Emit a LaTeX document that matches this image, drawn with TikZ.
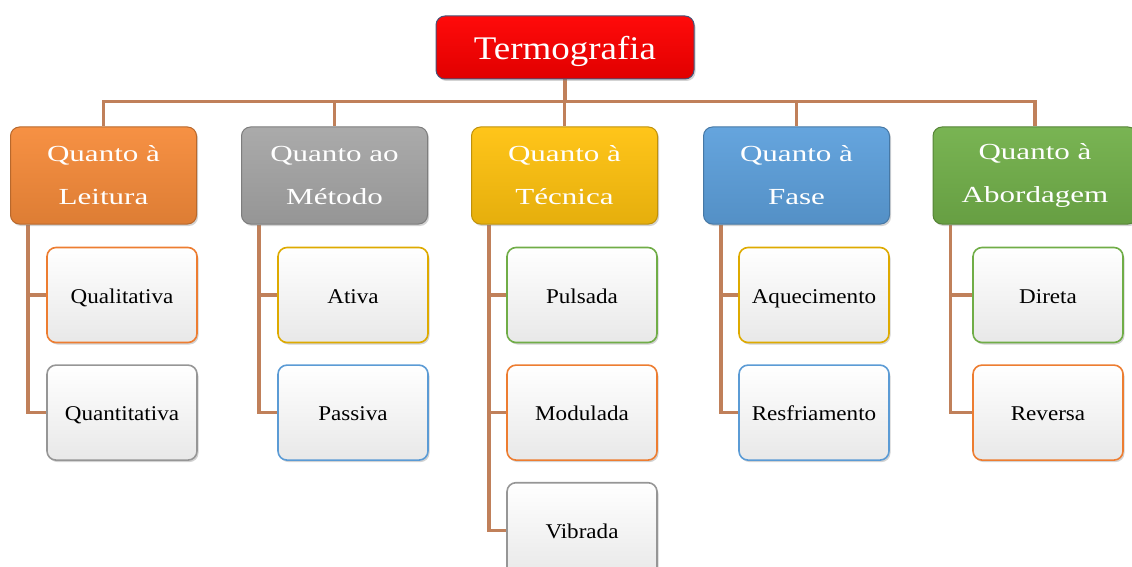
\documentclass[tikz,border=0pt]{standalone}
\usepackage{fontspec}
\setmainfont{Liberation Serif}
\newfontfamily\rootfont[FakeStretch=1.12]{Liberation Serif}
\newfontfamily\headfont[FakeStretch=1.35]{Liberation Serif}
\newfontfamily\leaffont[FakeStretch=1.1]{Liberation Serif}
\usepackage{tikz}
\usetikzlibrary{calc, positioning, shadows, backgrounds}
\definecolor{linkbrown}{RGB}{192,128,90}
\definecolor{tred}{RGB}{255,0,0}
\definecolor{rootedge}{RGB}{70,84,120}
\definecolor{torange}{RGB}{246,139,58}
\definecolor{tgray}{RGB}{166,166,166}
\definecolor{tgold}{RGB}{255,194,14}
\definecolor{tblue}{RGB}{93,160,220}
\definecolor{tgreen}{RGB}{114,176,74}
\definecolor{lorange}{RGB}{237,125,49}
\definecolor{lgray}{RGB}{150,150,150}
\definecolor{lgold}{RGB}{222,170,0}
\definecolor{lblue}{RGB}{91,155,213}
\definecolor{lgreen}{RGB}{112,173,71}

\begin{document}
\begin{tikzpicture}[
        x=1pt, y=-1pt,
        box/.style = {draw, rectangle, rounded corners=9pt, inner sep=0pt, align=center, line width=1pt, drop shadow={opacity=0.35, shadow xshift=1.5pt, shadow yshift=-2pt}},
        rootbox/.style = {box, top color=tred!96!white, middle color=tred, bottom color=tred!88!black, draw=rootedge, minimum width=258pt, minimum height=63pt, text=white, text height=24pt, text depth=0pt, font=\rootfont\fontsize{33}{36}\selectfont},
        headbox/.style = {box, top color=#1!95!white, middle color=#1, bottom color=#1!90!black, draw=#1!75!black, minimum width=186pt, minimum height=97pt, text=white, font=\headfont\fontsize{23}{43}\selectfont},
        leafbox/.style = {box, top color=white, middle color=white, bottom color=black!9, draw=#1, line width=1.6pt, minimum width=150pt, minimum height=95pt, text height=16pt, text depth=0pt, font=\leaffont\fontsize{21}{24}\selectfont},
        link/.style = {draw=linkbrown, line width=3.2pt}
    ]

        % Frame
        \useasboundingbox (0,0) rectangle (1132,567);
        \clip (0,0) rectangle (1132,567);

        % Root
        \node (root) [rootbox] at (565,47.5) {Termografia};

        % Categories
        \node (leitura) [headbox=torange] at (103.5,175.5) {Quanto à\\Leitura};
        \node (metodo) [headbox=tgray] at (334.5,175.5) {Quanto ao\\Método};
        \node (tecnica) [headbox=tgold] at (564.5,175.5) {Quanto à\\Técnica};
        \node (fase) [headbox=tblue] at (796.5,175.5) {Quanto à\\Fase};
        \node (abordagem) [headbox=tgreen, minimum width=204pt] at (1035,175.5) {Quanto à\\Abordagem};

        % Leitura
        \node (qualitativa) [leafbox=lorange] at (122,295) {Qualitativa};
        \node (quantitativa) [leafbox=lgray, below=21pt of qualitativa] {Quantitativa};

        % Metodo
        \node (ativa) [leafbox=lgold] at (353,295) {Ativa};
        \node (passiva) [leafbox=lblue, below=21pt of ativa] {Passiva};

        % Tecnica
        \node (pulsada) [leafbox=lgreen] at (582,295) {Pulsada};
        \node (modulada) [leafbox=lorange, below=21pt of pulsada] {Modulada};
        \node (vibrada) [leafbox=lgray, below=21pt of modulada] {Vibrada};

        % Fase
        \node (aquecimento) [leafbox=lgold] at (814,295) {Aquecimento};
        \node (resfriamento) [leafbox=lblue, below=21pt of aquecimento] {Resfriamento};

        % Abordagem
        \node (direta) [leafbox=lgreen] at (1048,295) {Direta};
        \node (reversa) [leafbox=lorange, below=21pt of direta] {Reversa};

        \begin{scope}[on background layer]
        % Root to categories
        \foreach \cat in {leitura, metodo, tecnica, fase, abordagem}
            \draw [link] (root.south) -- ++(0,22) -| (\cat.north);

        % Categories to items
        \draw [link] ([xshift=18pt]leitura.south west) |- (qualitativa.west);
        \draw [link] ([xshift=18pt]leitura.south west) |- (quantitativa.west);
        \draw [link] ([xshift=18pt]metodo.south west) |- (ativa.west);
        \draw [link] ([xshift=18pt]metodo.south west) |- (passiva.west);
        \draw [link] ([xshift=18pt]tecnica.south west) |- (pulsada.west);
        \draw [link] ([xshift=18pt]tecnica.south west) |- (modulada.west);
        \draw [link] ([xshift=18pt]tecnica.south west) |- (vibrada.west);
        \draw [link] ([xshift=18pt]fase.south west) |- (aquecimento.west);
        \draw [link] ([xshift=18pt]fase.south west) |- (resfriamento.west);
        \draw [link] ([xshift=18pt]abordagem.south west) |- (direta.west);
        \draw [link] ([xshift=18pt]abordagem.south west) |- (reversa.west);
        \end{scope}

    \end{tikzpicture}
\end{document}
